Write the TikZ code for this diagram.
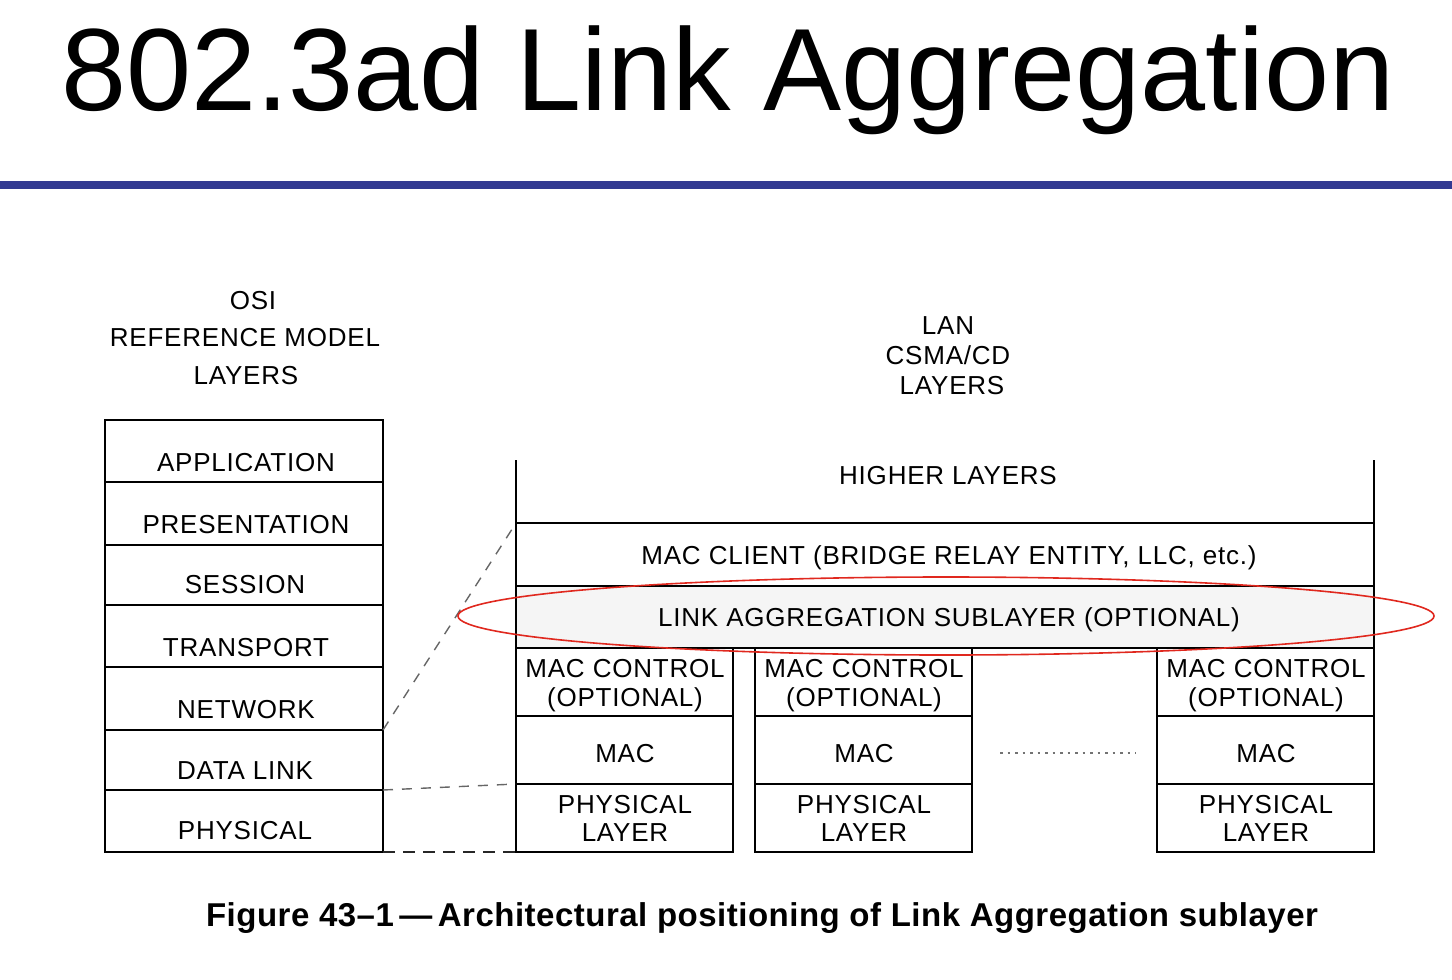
\documentclass[tikz,border=0pt]{standalone}
\usepackage{fontspec}
\setmainfont{Liberation Sans}
\newfontfamily\figfont[LetterSpace=3]{Liberation Sans}
\newfontfamily\capfont[LetterSpace=1.5]{Liberation Sans}
\usetikzlibrary{shapes.geometric}
\definecolor{rulecol}{HTML}{323A92}
\definecolor{ovalred}{HTML}{E0281E}
\definecolor{lagfill}{HTML}{F5F5F5}
\begin{document}
\begin{tikzpicture}[x=1pt,y=-1pt,
  lbl/.style={font=\figfont\fontsize{26}{26}\selectfont, text height=18.6pt, text depth=0pt, inner sep=0pt, anchor=center},
  cell/.style={draw, line width=1.6pt, inner sep=0pt, outer sep=0pt, anchor=north west},
  gdash/.style={draw=black!60, line width=1.4pt, dash pattern=on 10pt off 9pt},
  bdash/.style={draw=black!85, line width=1.4pt, dash pattern=on 12pt off 8pt},
  frame/.style={line width=1.6pt}]
\useasboundingbox (0,0) rectangle (1452,980);
% title and rule
\node[font=\fontsize{117}{117}\selectfont, text height=84pt, text depth=0pt, inner sep=0pt] (title) at (728,68.5) {802.3ad Link Aggregation};
\fill[rulecol] (0,181) rectangle (1452,189);
% OSI heading
\node[lbl] (osi1) at (253,300) {OSI};
\node[lbl] (osi2) at (245,337) {REFERENCE MODEL};
\node[lbl] (osi3) at (246,375) {LAYERS};
% OSI stack
\node[cell, minimum width=278pt, minimum height=62pt] (app) at (105,420) {};
\node[cell, minimum width=278pt, minimum height=63pt] (pres) at (105,482) {};
\node[cell, minimum width=278pt, minimum height=60pt] (sess) at (105,545) {};
\node[cell, minimum width=278pt, minimum height=62pt] (trans) at (105,605) {};
\node[cell, minimum width=278pt, minimum height=63pt] (net) at (105,667) {};
\node[cell, minimum width=278pt, minimum height=60pt] (dl) at (105,730) {};
\node[cell, minimum width=278pt, minimum height=62pt] (phy) at (105,790) {};
\node[lbl] (tapp) at (246,462) {APPLICATION};
\node[lbl] (tpres) at (246,524) {PRESENTATION};
\node[lbl] (tsess) at (245,584) {SESSION};
\node[lbl] (ttrans) at (246,647) {TRANSPORT};
\node[lbl] (tnet) at (246,709) {NETWORK};
\node[lbl] (tdl) at (245,770) {DATA LINK};
\node[lbl] (tphy) at (245,830) {PHYSICAL};
% LAN heading
\node[lbl] (lan1) at (948,325) {LAN};
\node[lbl] (lan2) at (948,355) {CSMA/CD};
\node[lbl] (lan3) at (952,385) {LAYERS};
% higher layers region
\coordinate (hlL) at (516,460);
\coordinate (hlR) at (1374,460);
\node[cell, minimum width=858pt, minimum height=63pt] (client) at (516,523) {};
\node[cell, fill=lagfill, minimum width=858pt, minimum height=62pt] (lag) at (516,586) {};
\draw[frame] (hlL) -- (client.north west);
\draw[frame] (hlR) -- (client.north east);
\node[lbl] (thl) at (948,475) {HIGHER LAYERS};
\node[lbl] (tclient) at (949,555) {MAC CLIENT (BRIDGE RELAY ENTITY, LLC, etc.)};
\node[lbl] (tlag) at (949,617) {LINK AGGREGATION SUBLAYER (OPTIONAL)};
% port columns
\foreach \n/\x in {a/516, b/755, c/1157}{
  \node[cell, minimum width=217pt, minimum height=68pt] (ctl\n) at (\x,648) {};
  \node[cell, minimum width=217pt, minimum height=68pt] (mac\n) at (\x,716) {};
  \node[cell, minimum width=217pt, minimum height=68pt] (pl\n) at (\x,784) {};
}
\foreach \n/\x in {a/625, b/864, c/1266}{
  \node[lbl] (tc1\n) at (\x,668) {MAC CONTROL};
  \node[lbl] (tc2\n) at (\x,697) {(OPTIONAL)};
  \node[lbl] (tm\n) at (\x,753) {MAC};
  \node[lbl] (tp1\n) at (\x,804) {PHYSICAL};
  \node[lbl] (tp2\n) at (\x,832) {LAYER};
}
% ellipsis between ports
\coordinate (dotA) at (1000,753);
\coordinate (dotB) at (1136,753);
\draw[black!55, line width=2.6pt, dash pattern=on 2.6pt off 4.9pt] (dotA) -- (dotB);
% dashed mapping lines
\draw[gdash] (net.south east) -- (client.north west);
\draw[gdash] (dl.south east) -- (pla.north west);
\draw[bdash] (phy.south east) -- (pla.south west);
% red oval
\node[draw=ovalred, line width=1.6pt, ellipse, inner sep=0pt, minimum width=976pt, minimum height=78pt] (oval) at (946,616) {};
% caption
\node[font=\capfont\bfseries\fontsize{33}{33}\selectfont, text height=23.6pt, text depth=0pt, inner sep=0pt] (cap) at (762,915) {Figure 43–1\,—\,Architectural positioning of Link Aggregation sublayer};
\end{tikzpicture}
\end{document}
